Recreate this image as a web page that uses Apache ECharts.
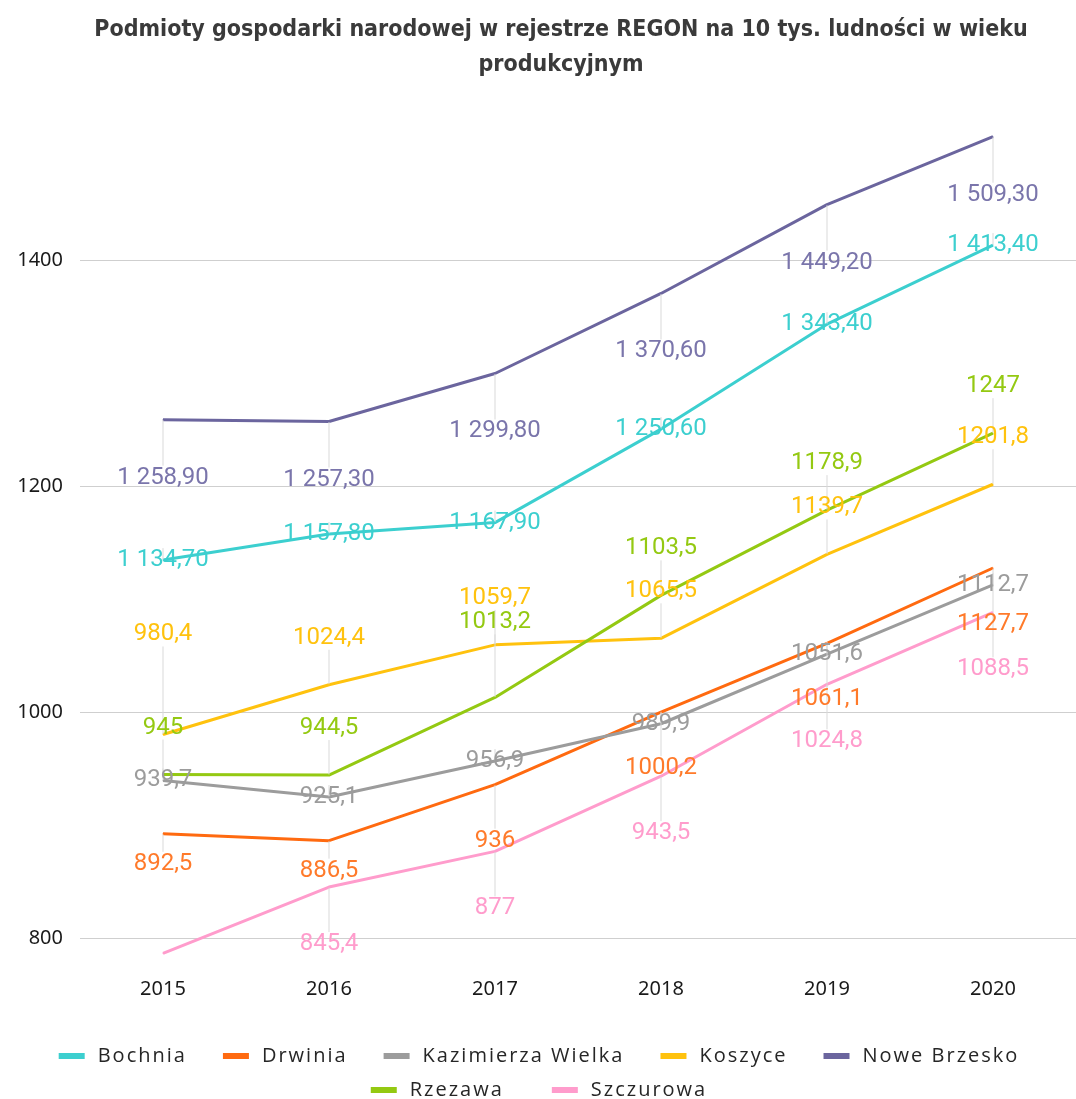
<!DOCTYPE html>
<html>
<head>
<meta charset="utf-8">
<script src="https://cdn.jsdelivr.net/npm/echarts@6/dist/echarts.min.js"></script>
<style>
  html, body { margin: 0; padding: 0; background: #fff; }
  #main { width: 1076px; height: 1099px; }
</style>
</head>
<body>
<div id="main"></div>
<script>
// lata
var years = ['2015', '2016', '2017', '2018', '2019', '2020'];

// wartosci serii
var bochnia = [1134.7, 1157.8, 1167.9, 1250.6, 1343.4, 1413.4];
var drwinia = [892.5, 886.5, 936, 1000.2, 1061.1, 1127.7];
var kazimierza = [939.7, 925.1, 956.9, 989.9, 1051.6, 1112.7];
var koszyce = [980.4, 1024.4, 1059.7, 1065.5, 1139.7, 1201.8];
var noweBrzesko = [1258.9, 1257.3, 1299.8, 1370.6, 1449.2, 1509.3];
var rzezawa = [945, 944.5, 1013.2, 1103.5, 1178.9, 1247];
var szczurowa = [786.7, 845.4, 877, 943.5, 1024.8, 1088.5];

// podzialka osi Y
var yTicks = [800, 1000, 1200, 1400];

var labelFont = 'Roboto, sans-serif';

function fmtLong(v) {
    var s = v.toFixed(2).replace('.', ',');
    var parts = s.split(',');
    var intPart = parts[0].replace(/\B(?=(\d{3})+(?!\d))/g, ' ');
    return intPart + ',' + parts[1];
}
function fmtShort(v) {
    return String(v).replace('.', ',');
}
// rozstrzelony tekst legendy
function spaced(name) {
    return name.split('').join('\u200A');
}

function makeSeries(name, data, color, labelColor, fmt, dyFn, hideIdx) {
    return {
        name: name,
        type: 'line',
        data: data,
        symbol: 'circle',
        symbolSize: 1,
        showSymbol: true,
        lineStyle: { color: color, width: 3 },
        itemStyle: { color: color },
        label: {
            show: true,
            position: 'inside',
            color: labelColor,
            fontFamily: labelFont,
            fontSize: 24,
            formatter: function (p) {
                if (hideIdx !== undefined && p.dataIndex === hideIdx) return '';
                return fmt(p.value);
            }
        },
        labelLayout: function (params) {
            if (hideIdx !== undefined && params.dataIndex === hideIdx) return { dy: 0 };
            return { dy: dyFn(params.dataIndex) };
        },
        labelLine: {
            show: true,
            lineStyle: { color: '#d9d9d9', width: 1 }
        }
    };
}

var chart = echarts.init(document.getElementById('main'));

var legendText = { fontFamily: '"Open Sans", sans-serif', fontSize: 20, color: '#262626', padding: [0, 0, 0, 8] };

var option = {
    backgroundColor: '#fff',
    title: {
        text: 'Podmioty gospodarki narodowej w rejestrze REGON na 10 tys. ludności w wieku\nprodukcyjnym',
        left: 556,
        textAlign: 'center',
        top: 8,
        textStyle: {
            fontFamily: '"Liberation Sans Narrow", "DejaVu Sans Condensed", sans-serif',
            fontSize: 23,
            fontWeight: 'bold',
            color: '#3a3a3a',
            lineHeight: 35
        }
    },
    legend: [
        {
            data: ['Bochnia', 'Drwinia', 'Kazimierza Wielka', 'Koszyce', 'Nowe Brzesko'],
            left: 'center',
            top: 1041,
            icon: 'rect',
            itemWidth: 26,
            itemHeight: 6,
            itemGap: 38,
            formatter: spaced,
            textStyle: legendText
        },
        {
            data: ['Rzezawa', 'Szczurowa'],
            left: 'center',
            top: 1075,
            icon: 'rect',
            itemWidth: 26,
            itemHeight: 6,
            itemGap: 50,
            formatter: spaced,
            textStyle: legendText
        }
    ],
    grid: {
        left: 80,
        right: 0,
        top: 102,
        bottom: 138
    },
    xAxis: {
        type: 'category',
        data: years,
        boundaryGap: true,
        axisLine: { show: false },
        axisTick: { show: false },
        axisLabel: {
            margin: 18,
            fontFamily: '"Noto Sans", sans-serif',
            fontSize: 20,
            color: '#1a1a1a'
        }
    },
    yAxis: {
        type: 'value',
        min: 780,
        max: 1540,
        axisLine: { show: false },
        axisTick: { show: false, customValues: yTicks },
        axisLabel: {
            customValues: yTicks,
            margin: 17,
            fontFamily: '"Noto Sans", sans-serif',
            fontSize: 20,
            color: '#1a1a1a',
            formatter: function (v) { return String(v); }
        },
        splitLine: { show: true, lineStyle: { color: '#cfcfcf', width: 1 } }
    },
    series: [
        makeSeries('Bochnia', bochnia, '#3ccfcf', '#3ccfcf', fmtLong, function () { return 0; }),
        makeSeries('Drwinia', drwinia, '#ff6a10', '#ff7a2a', fmtShort, function (i) { return i < 2 ? 30 : 56; }),
        makeSeries('Kazimierza Wielka', kazimierza, '#9c9c9c', '#9c9c9c', fmtShort, function () { return 0; }),
        makeSeries('Koszyce', koszyce, '#ffc20e', '#ffc20e', fmtShort, function (i) { return i === 0 ? -100 : -47; }),
        makeSeries('Nowe Brzesko', noweBrzesko, '#6b659e', '#7a75ab', fmtLong, function () { return 58; }),
        makeSeries('Rzezawa', rzezawa, '#94c912', '#94c912', fmtShort, function (i) { return i === 2 ? -75 : -47; }),
        makeSeries('Szczurowa', szczurowa, '#ff9ccc', '#ff9ccc', fmtShort, function () { return 57; }, 0)
    ]
};

chart.setOption(option);
</script>
</body>
</html>
